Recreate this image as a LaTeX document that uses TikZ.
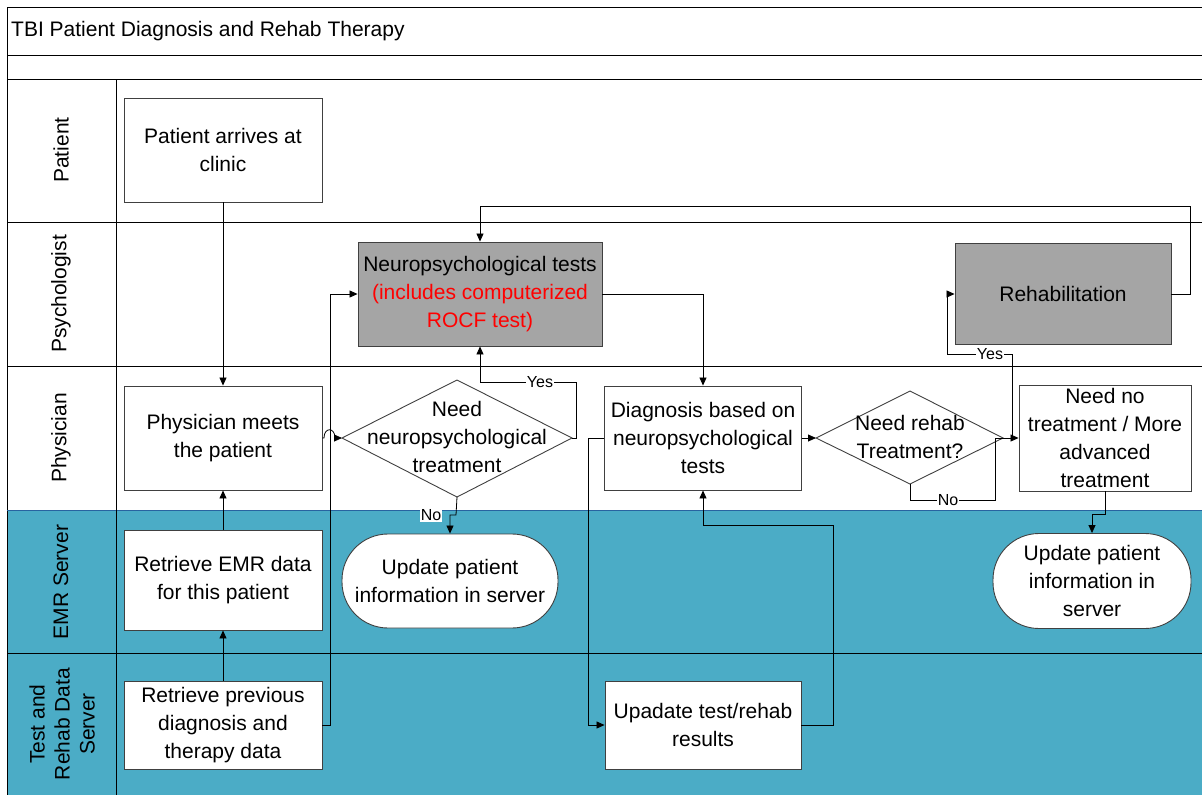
\documentclass[tikz,border=0pt]{standalone}
\usepackage{fontspec}
\setmainfont{Liberation Sans}
\usetikzlibrary{arrows.meta}
\definecolor{tealbg}{RGB}{75,172,198}
\definecolor{boxgray}{RGB}{165,165,165}
\definecolor{lanebl}{RGB}{40,100,160}
\begin{document}
\begin{tikzpicture}[x=1pt,y=-1pt,
  every node/.style={font=\fontsize{21}{28}\selectfont, align=center, inner sep=0pt},
  box/.style={draw=black!75, line width=0.9pt, fill=white},
  graybox/.style={draw=black!75, line width=0.9pt, fill=boxgray},
  stadium/.style={draw=black!75, line width=0.9pt, fill=white, rounded corners=46pt},
  lanetext/.style={rotate=90},
  laneline/.style={draw=black, line width=0.8pt},
  conn/.style={draw=black, line width=0.8pt, -{Triangle[length=8pt,width=7pt]}},
  plainline/.style={draw=black, line width=0.8pt},
  lbl/.style={fill=white, font=\fontsize{16}{18}\selectfont, inner sep=1pt}]
\useasboundingbox (0,0) rectangle (1202,795);
% background and lanes
\fill[tealbg] (7,510) rectangle (1202,795);
\draw[laneline] (7,795) -- (7,7) -- (1202,7);
\foreach \yy in {55,79,222,366,653} \draw[laneline] (7,\yy) -- (1202,\yy);
\draw[draw=lanebl, line width=0.9pt] (7,510) -- (1202,510);
\draw[laneline] (116,79) -- (116,795);
\node[anchor=west] (title) at (11,31) {TBI Patient Diagnosis and Rehab Therapy};
% lane labels
\node[lanetext] (lpat) at (61,150) {Patient};
\node[lanetext] (lpsy) at (61,294) {Psychologist};
\node[lanetext] (lphy) at (61,438) {Physician};
\node[lanetext] (lemr) at (61,582) {EMR Server};
\node[lanetext, font=\fontsize{21}{25}\selectfont] (ltest) at (62,724) {Test and\\Rehab Data\\Server};
% boxes
\node[box, minimum width=198pt, minimum height=104pt] (arrive) at (223,150) {Patient arrives at\\clinic};
\node[box, minimum width=198pt, minimum height=104pt] (phys) at (223,438) {Physician meets\\the patient};
\node[box, minimum width=198pt, minimum height=100pt] (emr) at (223,580) {Retrieve EMR data\\for this patient};
\node[box, minimum width=198pt, minimum height=88pt] (prev) at (223,725) {Retrieve previous\\diagnosis and\\therapy data};
\node[graybox, minimum width=244pt, minimum height=104pt] (neuro) at (480,294) {Neuropsychological tests\\\textcolor{red}{(includes computerized}\\\textcolor{red}{ROCF test)}};
\node[stadium, minimum width=216pt, minimum height=94pt] (upd1) at (450,581) {Update patient\\information in server};
\node[box, minimum width=197pt, minimum height=104pt] (diag) at (703,438) {Diagnosis based on\\neuropsychological\\tests};
\node[box, minimum width=196pt, minimum height=88pt] (upres) at (703,725) {Upadate test/rehab\\results};
\node[graybox, minimum width=216pt, minimum height=101pt] (rehab) at (1063,294) {Rehabilitation};
\node[box, minimum width=172pt, minimum height=106pt] (needno) at (1105,438) {Need no\\treatment / More\\advanced\\treatment};
\node[stadium, minimum width=198pt, minimum height=95pt] (upd2) at (1092,581) {Update patient\\information in\\server};
% diamonds
\coordinate (d1n) at (457,380);
\coordinate (d1e) at (572,438);
\coordinate (d1s) at (457,497);
\coordinate (d1w) at (342,438);
\draw[box] (d1n) -- (d1e) -- (d1s) -- (d1w) -- cycle;
\node (d1) at (457,437) {Need\\neuropsychological\\treatment};
\coordinate (d2n) at (910,391);
\coordinate (d2e) at (1003,438);
\coordinate (d2s) at (910,484);
\coordinate (d2w) at (816,438);
\draw[box] (d2n) -- (d2e) -- (d2s) -- (d2w) -- cycle;
\node (d2) at (910,437) {Need rehab\\Treatment?};
% connectors
\draw[conn] (arrive.south) -- (phys.north);
\draw[conn] (emr.north) -- (phys.south);
\draw[conn] (prev.north) -- (emr.south);
\draw[conn] (prev.east) -- (330,725) -- (330,294) -- (neuro.west);
\draw[conn] (phys.east) -- (324,438) .. controls (324,427) and (335,427) .. (335,438) -- (d1w);
\draw[conn] (d1e) -- (576,438) -- (576,382) -- (480,382) -- (neuro.south);
\node[lbl] (yes1) at (540,382) {Yes};
\draw[conn] (d1s) -- (456,515) -- (450,515) -- (upd1.north);
\node[lbl] (no1) at (431,515) {No};
\draw[conn] (neuro.east) -- (703,294) -- (diag.north);
\draw[conn] (rehab.east) -- (1190,294) -- (1190,206) -- (480,206) -- (neuro.north);
\draw[conn] (diag.west) -- (588,438) -- (588,725) -- (upres.west);
\draw[conn] (upres.east) -- (833,725) -- (833,525) -- (703,525) -- (diag.south);
\draw[conn] (diag.east) -- (d2w);
\draw[conn] (d2e) -- (1012,438) -- (1012,354) -- (947,354) -- (947,294) -- (rehab.west);
\node[lbl] (yes2) at (990,354) {Yes};
\draw[conn] (d2s) -- (910,500) -- (995,500) -- (995,438) -- (needno.west);
\node[lbl] (no2) at (948,500) {No};
\draw[conn] (needno.south) -- (1105,514) -- (1092,514) -- (upd2.north);
\end{tikzpicture}
\end{document}
